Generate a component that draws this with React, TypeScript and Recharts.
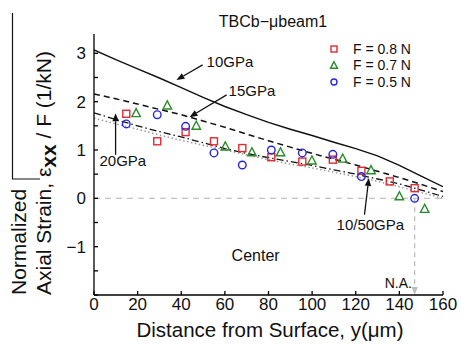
import React from 'react';
import { ComposedChart, Line, Scatter, XAxis, YAxis, ReferenceLine, ReferenceDot } from 'recharts';

// model curves (FE), sampled every 10 um
const distance = [0, 10, 20, 30, 40, 50, 60, 70, 80, 90, 100, 110, 120, 130, 140, 150, 160];
const modulus10 = [3.07, 2.87, 2.68, 2.49, 2.29, 2.09, 1.9, 1.73, 1.57, 1.43, 1.3, 1.16, 1.03, 0.88, 0.68, 0.46, 0.24];
const modulus15 = [2.16, 2.06, 1.95, 1.84, 1.73, 1.6, 1.47, 1.33, 1.19, 1.06, 0.93, 0.81, 0.69, 0.56, 0.43, 0.29, 0.14];
const modulus20 = [1.77, 1.63, 1.5, 1.38, 1.27, 1.15, 1.03, 0.93, 0.84, 0.76, 0.68, 0.59, 0.5, 0.4, 0.3, 0.17, 0.04];
const modulus1050 = [1.66, 1.54, 1.43, 1.31, 1.2, 1.1, 1.0, 0.9, 0.8, 0.71, 0.63, 0.54, 0.45, 0.35, 0.24, 0.12, 0.0];

// measured points
const depth08 = [14.8, 29, 42, 55, 68, 81.3, 95.5, 109.5, 122.6, 135.6, 147];
const strain08 = [1.75, 1.18, 1.37, 1.18, 1.04, 0.85, 0.76, 0.8, 0.57, 0.35, 0.21];
const depth07 = [19.3, 33.6, 46.9, 60.2, 72.4, 85.5, 99.9, 114, 127, 140, 151.6];
const strain07 = [1.76, 1.92, 1.5, 1.07, 0.95, 0.95, 0.78, 0.82, 0.58, 0.04, -0.22];
const depth05 = [14.8, 29, 42, 55, 68, 81.3, 95.5, 109.5, 122.6, 147];
const strain05 = [1.54, 1.73, 1.49, 0.94, 0.69, 1.0, 0.94, 0.91, 0.45, 0.0];

const xTicks = [0, 20, 40, 60, 80, 100, 120, 140, 160];
const yTicks = [-2, -1.5, -1, -0.5, 0, 0.5, 1, 1.5, 2, 2.5, 3];

const FONT = '"Liberation Sans", Arial, Helvetica, sans-serif';
const RED = '#e02a30';
const GREEN = '#2a8c2a';
const BLUE = '#2626e4';
const NA_DEPTH = 147;

const curveRows = distance.map((x, i) => ({
  x,
  e10: modulus10[i],
  e15: modulus15[i],
  e20: modulus20[i],
  e1050: modulus1050[i],
}));
const toPoints = (xs: number[], ys: number[]) => xs.map((x, i) => ({ x, y: ys[i] }));

const square = (color: string, s = 7) => (p: any) => (
  <rect x={p.cx - s / 2} y={p.cy - s / 2} width={s} height={s} fill="none" stroke={color} strokeWidth={1.4} />
);
const triangle = (color: string, s = 8.5) => (p: any) => (
  <polygon
    points={`${p.cx},${p.cy - s * 0.55} ${p.cx - s / 2},${p.cy + s * 0.4} ${p.cx + s / 2},${p.cy + s * 0.4}`}
    fill="none"
    stroke={color}
    strokeWidth={1.4}
  />
);
const circle = (color: string, r = 3.8) => (p: any) => (
  <circle cx={p.cx} cy={p.cy} r={r} fill="none" stroke={color} strokeWidth={1.4} />
);

const arrow = (color: string, dash?: string) => (p: any) => {
  const { x1, y1, x2, y2 } = p;
  const a = Math.atan2(y2 - y1, x2 - x1);
  const len = 8;
  const w = 3.2;
  const bx = x2 - len * Math.cos(a);
  const by = y2 - len * Math.sin(a);
  const ox = -Math.sin(a) * w;
  const oy = Math.cos(a) * w;
  return (
    <g>
      <line x1={x1} y1={y1} x2={bx} y2={by} stroke={color} strokeWidth={1.3} strokeDasharray={dash} />
      <polygon points={`${x2},${y2} ${bx + ox},${by + oy} ${bx - ox},${by - oy}`} fill={color} />
    </g>
  );
};

const note = (text: string, size = 15, anchor: 'start' | 'middle' = 'start') => (p: any) => (
  <text x={p.cx} y={p.cy} dy="0.35em" textAnchor={anchor} fontFamily={FONT} fontSize={size} fill="#111">
    {text}
  </text>
);

const fmt = (v: number) => (v < 0 ? `\u2212${-v}` : `${v}`);

const XTick = (p: any) => (
  <text x={p.x} y={p.y} dy="0.35em" textAnchor="middle" fontFamily={FONT} fontSize={17} fill="#111">
    {fmt(p.payload.value)}
  </text>
);
const YTick = (p: any) => {
  const v = p.payload.value;
  if (!Number.isInteger(v) || v === -2) return <g />;
  return (
    <text x={p.x} y={p.y} dy="0.35em" textAnchor="end" fontFamily={FONT} fontSize={17} fill="#111">
      {fmt(v)}
    </text>
  );
};
const NoTick = () => <g />;

const legendRows = [
  { label: 'F = 0.8 N', mark: square(RED, 6) },
  { label: 'F = 0.7 N', mark: triangle(GREEN, 7) },
  { label: 'F = 0.5 N', mark: circle(BLUE, 3) },
];

export default function App() {
  const axis = { stroke: '#000', strokeWidth: 1.3 };
  return (
    <div style={{ position: 'relative', width: 461, height: 344, background: '#fff' }}>
      <style>{'body{margin:0}'}</style>
      <ComposedChart width={461} height={344} data={curveRows} margin={{ top: 34, right: 18, bottom: 0, left: 0 }}>
        <XAxis
          dataKey="x"
          type="number"
          domain={[0, 160]}
          ticks={xTicks}
          allowDataOverflow
          height={49}
          tickSize={-4}
          tickMargin={13}
          axisLine={axis}
          tickLine={axis}
          tick={XTick}
        />
        <XAxis
          xAxisId="top"
          orientation="top"
          type="number"
          domain={[0, 160]}
          ticks={xTicks}
          allowDataOverflow
          height={0}
          tickSize={-4}
          axisLine={axis}
          tickLine={axis}
          tick={NoTick}
        />
        <YAxis
          type="number"
          domain={[-2, 3.4]}
          ticks={yTicks}
          allowDataOverflow
          width={94}
          tickSize={-4}
          tickMargin={12}
          axisLine={axis}
          tickLine={axis}
          tick={YTick}
        />
        <YAxis
          yAxisId="right"
          orientation="right"
          type="number"
          domain={[-2, 3.4]}
          ticks={yTicks}
          allowDataOverflow
          width={0}
          tickSize={-4}
          axisLine={axis}
          tickLine={axis}
          tick={NoTick}
        />

        <ReferenceLine y={0} stroke="#c4c4c4" strokeWidth={1.4} strokeDasharray="6 5" />
        <ReferenceLine
          segment={[{ x: NA_DEPTH, y: 0 }, { x: NA_DEPTH, y: -2 }]}
          shape={arrow('#bdbdbd', '5 4')}
        />

        <Line dataKey="e1050" stroke="#9a9a9a" strokeWidth={1.5} strokeDasharray="1.5 2.5" dot={false} isAnimationActive={false} />
        <Line dataKey="e20" stroke="#111" strokeWidth={1.3} strokeDasharray="7 3 1.5 3" dot={false} isAnimationActive={false} />
        <Line dataKey="e15" stroke="#111" strokeWidth={1.5} strokeDasharray="6 4" dot={false} isAnimationActive={false} />
        <Line dataKey="e10" stroke="#111" strokeWidth={1.4} dot={false} isAnimationActive={false} />

        <Scatter data={toPoints(depth08, strain08)} dataKey="y" shape={square(RED)} isAnimationActive={false} />
        <Scatter data={toPoints(depth07, strain07)} dataKey="y" shape={triangle(GREEN)} isAnimationActive={false} />
        <Scatter data={toPoints(depth05, strain05)} dataKey="y" shape={circle(BLUE)} isAnimationActive={false} />

        <ReferenceLine segment={[{ x: 49.8, y: 2.76 }, { x: 37.8, y: 2.45 }]} shape={arrow('#111')} />
        <ReferenceLine segment={[{ x: 60.8, y: 2.14 }, { x: 43.8, y: 1.68 }]} shape={arrow('#111')} />
        <ReferenceLine segment={[{ x: 9.9, y: 0.9 }, { x: 9.9, y: 1.76 }]} shape={arrow('#111')} />
        <ReferenceLine segment={[{ x: 124, y: -0.34 }, { x: 126, y: 0.42 }]} shape={arrow('#111')} />

        <ReferenceDot x={51.6} y={2.82} r={0} shape={note('10GPa')} />
        <ReferenceDot x={61.7} y={2.22} r={0} shape={note('15GPa')} />
        <ReferenceDot x={2.5} y={0.77} r={0} shape={note('20GPa')} />
        <ReferenceDot x={111.2} y={-0.55} r={0} shape={note('10/50GPa')} />
        <ReferenceDot x={74.1} y={-1.19} r={0} shape={note('Center', 16, 'middle')} />
        <ReferenceDot x={133.3} y={-1.75} r={0} shape={note('N.A.', 14)} />
      </ComposedChart>

      <svg width={461} height={344} style={{ position: 'absolute', left: 0, top: 0, pointerEvents: 'none' }}>
        <text x={273} y={21} dy="0.35em" textAnchor="middle" fontFamily={FONT} fontSize={16} fill="#111">
          TBCb{'\u2212'}{'\u03bc'}beam1
        </text>

        {legendRows.map((r, i) => (
          <g key={r.label}>
            {r.mark({ cx: 334, cy: 49 + i * 16.5 })}
            <text x={353} y={49 + i * 16.5} dy="0.35em" fontFamily={FONT} fontSize={14} fill="#111">
              {r.label}
            </text>
          </g>
        ))}

        <text x={270} y={337} textAnchor="middle" fontFamily={FONT} fontSize={20.5} fill="#111">
          Distance from Surface, y({'\u03bc'}m)
        </text>

        <g transform="rotate(-90)">
          <text x={-295} y={26} fontFamily={FONT} fontSize={21} fill="#111">
            Normalized
          </text>
          <text x={-295} y={51} fontFamily={FONT} fontSize={21} fill="#111">
            <tspan>Axial Strain, {'\u03b5'}</tspan>
            <tspan dy={5} fontWeight="bold">xx</tspan>
            <tspan dy={-5}> / F (1/kN)</tspan>
          </text>
        </g>

        <polyline points="12.5,13 12.5,179 40,179" fill="none" stroke="#111" strokeWidth={1.2} />
      </svg>
    </div>
  );
}
